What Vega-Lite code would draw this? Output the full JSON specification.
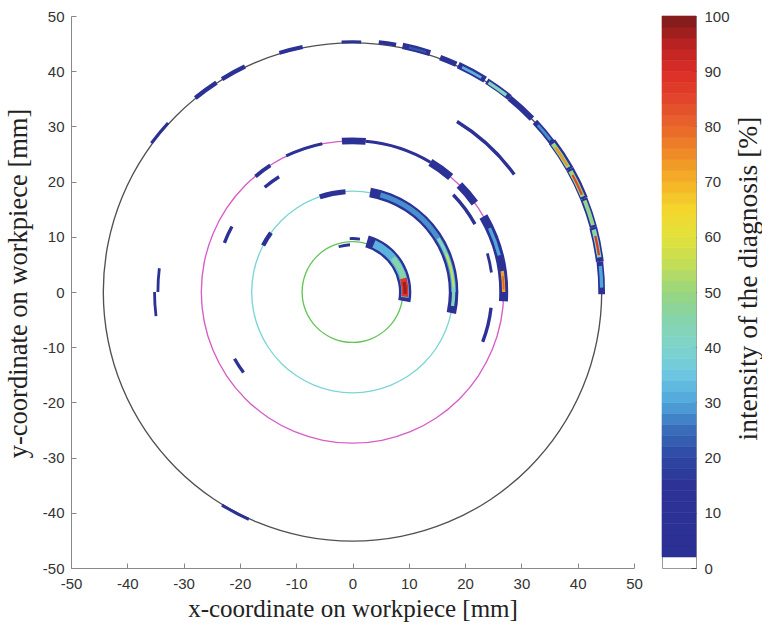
{
  "$schema": "https://vega.github.io/schema/vega-lite/v6.json",
  "background": "white",
  "padding": {"left": 5, "top": 8, "right": 2, "bottom": 5},
  "bounds": "flush",
  "spacing": 28,
  "config": {
    "view": {"stroke": null},
    "axis": {
      "labelFont": "Liberation Sans", "labelFontSize": 15, "labelColor": "#333",
      "titleFont": "Liberation Serif", "titleFontSize": 25, "titleFontWeight": "normal", "titleColor": "#222",
      "domainColor": "#888", "tickColor": "#888", "grid": false, "labelFlush": false, "labelOverlap": false,
      "labelExpr": "'' + datum.value"
    }
  },
  "resolve": {"scale": {"color": "shared"}},
  "hconcat": [
    {
      "width": 563,
      "height": 552,
      "encoding": {
        "x": {"datum": 0, "type": "quantitative",
          "scale": {"domain": [-50, 50], "nice": false, "zero": false},
          "axis": {"orient": "bottom", "values": [-50,-40,-30,-20,-10,0,10,20,30,40,50], "tickSize": -5, "labelPadding": 13, "title": "x-coordinate on workpiece [mm]", "titlePadding": 5, "titleFontSize": 25}},
        "y": {"datum": 0, "type": "quantitative",
          "scale": {"domain": [-50, 50], "nice": false, "zero": false},
          "axis": {"orient": "left", "values": [-50,-40,-30,-20,-10,0,10,20,30,40,50], "tickSize": -5, "labelPadding": 12, "title": "y-coordinate on workpiece [mm]", "titlePadding": 10, "titleFontSize": 26.5, "titleY": 267}},
        "theta": {"field": "a1", "type": "quantitative", "stack": null,
          "scale": {"domain": [0, 360], "range": [1.5707963267948966, -4.71238898038469], "zero": false, "nice": false}},
        "theta2": {"field": "a2"},
        "radius": {"field": "r1", "type": "quantitative",
          "scale": {"type": "linear", "domain": [0, 50], "range": [0, 280], "zero": true, "nice": false}},
        "radius2": {"field": "r2"}
      },
      "layer": [
        {
          "data": {"values": [
            {"ring": "c9", "r1": 8.88, "r2": 9.12, "a1": 0, "a2": 360},
            {"ring": "c18", "r1": 17.88, "r2": 18.12, "a1": 0, "a2": 360},
            {"ring": "c27", "r1": 26.88, "r2": 27.12, "a1": 0, "a2": 360},
            {"ring": "c44", "r1": 44.38, "r2": 44.62, "a1": 0, "a2": 360}
          ]},
          "mark": {"type": "arc"},
          "encoding": {
            "fill": {"field": "ring", "type": "nominal", "legend": null,
              "scale": {"domain": ["c9", "c18", "c27", "c44"], "range": ["#62c656", "#7ad6d4", "#d65ec6", "#505050"]}}
          }
        },
        {
          "data": {"values": [
            {"r1": 43.9, "r2": 45.1, "a1": -0.5, "a2": 7, "v": 8},
            {"r1": 43.8, "r2": 45.2, "a1": 7, "a2": 15, "v": 8},
            {"r1": 43.9, "r2": 45.2, "a1": 15, "a2": 22, "v": 8},
            {"r1": 43.9, "r2": 45.3, "a1": 22, "a2": 29.5, "v": 8},
            {"r1": 43.9, "r2": 45.3, "a1": 29.5, "a2": 37, "v": 8},
            {"r1": 44.0, "r2": 45.1, "a1": 36.5, "a2": 43, "v": 8},
            {"r1": 44.0, "r2": 45.1, "a1": 44, "a2": 51, "v": 8},
            {"r1": 44.1, "r2": 45.2, "a1": 51, "a2": 57.5, "v": 8},
            {"r1": 44.1, "r2": 45.3, "a1": 58, "a2": 65, "v": 8},
            {"r1": 44.2, "r2": 45.2, "a1": 65.5, "a2": 69.5, "v": 8},
            {"r1": 44.3, "r2": 45.4, "a1": 72, "a2": 78.5, "v": 8},
            {"r1": 44.5, "r2": 45.2, "a1": 80, "a2": 84, "v": 8},
            {"r1": 44.4, "r2": 44.95, "a1": 88, "a2": 92.5, "v": 8},
            {"r1": 44.3, "r2": 45.0, "a1": 101.5, "a2": 107, "v": 8},
            {"r1": 44.2, "r2": 45.0, "a1": 115.5, "a2": 121.5, "v": 8},
            {"r1": 44.2, "r2": 45.0, "a1": 123, "a2": 129, "v": 8},
            {"r1": 44.4, "r2": 44.95, "a1": 137.5, "a2": 143.5, "v": 8},
            {"r1": 44.35, "r2": 44.9, "a1": 238.5, "a2": 245.5, "v": 8},
            {"r1": 44.2, "r2": 44.8, "a1": 1, "a2": 6, "v": 30},
            {"r1": 44.1, "r2": 44.9, "a1": 8, "a2": 14.5, "v": 45},
            {"r1": 44.3, "r2": 44.7, "a1": 8.5, "a2": 13, "v": 88},
            {"r1": 44.2, "r2": 44.9, "a1": 15.5, "a2": 21.5, "v": 48},
            {"r1": 44.1, "r2": 44.9, "a1": 22.5, "a2": 29, "v": 50},
            {"r1": 44.3, "r2": 44.7, "a1": 23, "a2": 28, "v": 85},
            {"r1": 44.1, "r2": 44.9, "a1": 30, "a2": 36.5, "v": 50},
            {"r1": 44.3, "r2": 44.7, "a1": 30.5, "a2": 35.5, "v": 74},
            {"r1": 44.3, "r2": 44.8, "a1": 37.5, "a2": 42, "v": 28},
            {"r1": 44.3, "r2": 44.9, "a1": 52, "a2": 57, "v": 42},
            {"r1": 44.4, "r2": 44.9, "a1": 59, "a2": 64, "v": 32},
            {"r1": 44.6, "r2": 45.0, "a1": 73, "a2": 77, "v": 22},
            {"r1": 35.4, "r2": 36.0, "a1": 36, "a2": 58.5, "v": 8},
            {"r1": 34.5, "r2": 35.0, "a1": 173, "a2": 180, "v": 8},
            {"r1": 35.1, "r2": 35.6, "a1": 180, "a2": 187, "v": 8},
            {"r1": 26.4, "r2": 27.6, "a1": 85, "a2": 94, "v": 8},
            {"r1": 26.75, "r2": 27.3, "a1": 59, "a2": 85, "v": 8},
            {"r1": 26.75, "r2": 27.3, "a1": 101.5, "a2": 116, "v": 8},
            {"r1": 26.6, "r2": 27.3, "a1": 123, "a2": 130, "v": 8},
            {"r1": 26.3, "r2": 27.7, "a1": 49.5, "a2": 59, "v": 8},
            {"r1": 26.3, "r2": 27.7, "a1": 36, "a2": 45, "v": 8},
            {"r1": 26.2, "r2": 27.8, "a1": -3.5, "a2": 30, "v": 8},
            {"r1": 26.7, "r2": 27.3, "a1": 14, "a2": 25, "v": 30},
            {"r1": 26.7, "r2": 27.3, "a1": 0, "a2": 8, "v": 72},
            {"r1": 26.85, "r2": 27.15, "a1": 1, "a2": 6, "v": 80},
            {"r1": 24.7, "r2": 25.3, "a1": 29, "a2": 44, "v": 8},
            {"r1": 24.8, "r2": 25.3, "a1": 8, "a2": 16, "v": 8},
            {"r1": 24.6, "r2": 25.2, "a1": -21, "a2": -6.5, "v": 8},
            {"r1": 24.1, "r2": 24.7, "a1": 122.5, "a2": 130, "v": 8},
            {"r1": 24.2, "r2": 24.8, "a1": 151.5, "a2": 159, "v": 8},
            {"r1": 23.9, "r2": 24.5, "a1": 209.5, "a2": 216.5, "v": 8},
            {"r1": 17.5, "r2": 18.4, "a1": 94, "a2": 109, "v": 8},
            {"r1": 17.6, "r2": 18.4, "a1": 144, "a2": 152.5, "v": 8},
            {"r1": 17.2, "r2": 18.9, "a1": -12, "a2": 80, "v": 8},
            {"r1": 17.6, "r2": 18.5, "a1": 0, "a2": 74, "v": 28},
            {"r1": 17.75, "r2": 18.35, "a1": -8, "a2": 32, "v": 42},
            {"r1": 17.9, "r2": 18.2, "a1": 3, "a2": 22, "v": 57},
            {"r1": 9.3, "r2": 9.8, "a1": 82, "a2": 93, "v": 8},
            {"r1": 8.2, "r2": 8.7, "a1": 93, "a2": 107, "v": 8},
            {"r1": 8.3, "r2": 10.5, "a1": -10, "a2": 74, "v": 8},
            {"r1": 8.7, "r2": 10.1, "a1": -6, "a2": 66, "v": 32},
            {"r1": 8.9, "r2": 9.9, "a1": -5, "a2": 40, "v": 45},
            {"r1": 8.8, "r2": 10.0, "a1": -5, "a2": 15, "v": 88},
            {"r1": 9.1, "r2": 9.7, "a1": -2, "a2": 11, "v": 97}
          ]},
          "mark": {"type": "arc"},
          "encoding": {
            "color": {"field": "v", "type": "quantitative", "legend": null,
              "scale": {"type": "linear", "zero": false, "nice": false, "interpolate": "rgb",
                "domain": [0, 15, 20, 25, 30, 35, 40, 45, 50, 55, 60, 65, 70, 75, 80, 85, 90, 95, 100],
                "range": ["#2b2f95", "#2d3396", "#2e47a2", "#3a6cba", "#4fa6da", "#6cc6e2", "#7fd4cc", "#86d4ac", "#98d57f", "#c2dd58", "#e3e23a", "#f3d52c", "#f5b226", "#ef8b27", "#e8652a", "#e2452b", "#dc2d27", "#b82222", "#7a1a1a"]}}
          }
        }
      ]
    },
    {
      "width": 34,
      "height": 552,
      "view": {"stroke": "#999", "strokeWidth": 1},
      "data": {"values": [
        {"lo": 2, "hi": 4, "v": 3}, {"lo": 4, "hi": 6, "v": 5}, {"lo": 6, "hi": 8, "v": 7}, {"lo": 8, "hi": 10, "v": 9},
        {"lo": 10, "hi": 12, "v": 11}, {"lo": 12, "hi": 14, "v": 13}, {"lo": 14, "hi": 16, "v": 15}, {"lo": 16, "hi": 18, "v": 17},
        {"lo": 18, "hi": 20, "v": 19}, {"lo": 20, "hi": 22, "v": 21}, {"lo": 22, "hi": 24, "v": 23}, {"lo": 24, "hi": 26, "v": 25},
        {"lo": 26, "hi": 28, "v": 27}, {"lo": 28, "hi": 30, "v": 29}, {"lo": 30, "hi": 32, "v": 31}, {"lo": 32, "hi": 34, "v": 33},
        {"lo": 34, "hi": 36, "v": 35}, {"lo": 36, "hi": 38, "v": 37}, {"lo": 38, "hi": 40, "v": 39}, {"lo": 40, "hi": 42, "v": 41},
        {"lo": 42, "hi": 44, "v": 43}, {"lo": 44, "hi": 46, "v": 45}, {"lo": 46, "hi": 48, "v": 47}, {"lo": 48, "hi": 50, "v": 49},
        {"lo": 50, "hi": 52, "v": 51}, {"lo": 52, "hi": 54, "v": 53}, {"lo": 54, "hi": 56, "v": 55}, {"lo": 56, "hi": 58, "v": 57},
        {"lo": 58, "hi": 60, "v": 59}, {"lo": 60, "hi": 62, "v": 61}, {"lo": 62, "hi": 64, "v": 63}, {"lo": 64, "hi": 66, "v": 65},
        {"lo": 66, "hi": 68, "v": 67}, {"lo": 68, "hi": 70, "v": 69}, {"lo": 70, "hi": 72, "v": 71}, {"lo": 72, "hi": 74, "v": 73},
        {"lo": 74, "hi": 76, "v": 75}, {"lo": 76, "hi": 78, "v": 77}, {"lo": 78, "hi": 80, "v": 79}, {"lo": 80, "hi": 82, "v": 81},
        {"lo": 82, "hi": 84, "v": 83}, {"lo": 84, "hi": 86, "v": 85}, {"lo": 86, "hi": 88, "v": 87}, {"lo": 88, "hi": 90, "v": 89},
        {"lo": 90, "hi": 92, "v": 91}, {"lo": 92, "hi": 94, "v": 93}, {"lo": 94, "hi": 96, "v": 95}, {"lo": 96, "hi": 98, "v": 97},
        {"lo": 98, "hi": 100, "v": 99}
      ]},
      "mark": {"type": "rect", "strokeWidth": 0.6},
      "encoding": {
        "y": {"field": "lo", "type": "quantitative",
          "scale": {"domain": [0, 100], "nice": false, "zero": false},
          "axis": {"orient": "right", "values": [0, 10, 20, 30, 40, 50, 60, 70, 80, 90, 100], "tickSize": -5, "tickColor": "#444", "domain": false, "labelPadding": 13,
            "title": "intensity of the diagnosis [%]", "titleAngle": 270, "titleBaseline": "top", "titlePadding": 5, "titleFontSize": 27.5, "titleY": 262}},
        "y2": {"field": "hi"},
        "color": {"field": "v", "type": "quantitative", "legend": null,
          "scale": {"type": "linear", "zero": false, "nice": false, "interpolate": "rgb",
            "domain": [0, 15, 20, 25, 30, 35, 40, 45, 50, 55, 60, 65, 70, 75, 80, 85, 90, 95, 100],
            "range": ["#2b2f95", "#2d3396", "#2e47a2", "#3a6cba", "#4fa6da", "#6cc6e2", "#7fd4cc", "#86d4ac", "#98d57f", "#c2dd58", "#e3e23a", "#f3d52c", "#f5b226", "#ef8b27", "#e8652a", "#e2452b", "#dc2d27", "#b82222", "#7a1a1a"]}},
        "stroke": {"field": "v", "type": "quantitative", "legend": null,
          "scale": {"type": "linear", "zero": false, "nice": false, "interpolate": "rgb",
            "domain": [0, 15, 20, 25, 30, 35, 40, 45, 50, 55, 60, 65, 70, 75, 80, 85, 90, 95, 100],
            "range": ["#2b2f95", "#2d3396", "#2e47a2", "#3a6cba", "#4fa6da", "#6cc6e2", "#7fd4cc", "#86d4ac", "#98d57f", "#c2dd58", "#e3e23a", "#f3d52c", "#f5b226", "#ef8b27", "#e8652a", "#e2452b", "#dc2d27", "#b82222", "#7a1a1a"]}}
      }
    }
  ]
}
